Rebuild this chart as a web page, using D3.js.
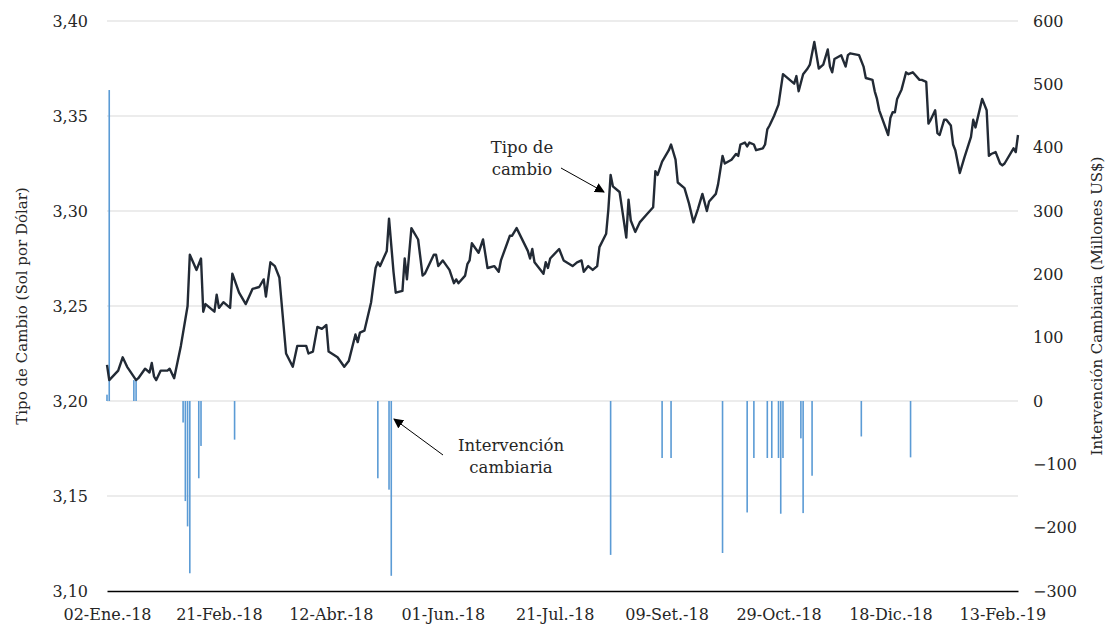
<!DOCTYPE html>
<html>
<head>
<meta charset="utf-8">
<script src="https://cdn.jsdelivr.net/npm/d3@7"></script>
<style>
  body { margin: 0; background: #fff; }
  svg text { font-family: 'DejaVu Serif', serif; fill: #262626; }
</style>
</head>
<body>
<div id="chart"></div>
<script>
const WIDTH = 1107
const HEIGHT = 627
const MARGIN = { top: 21, right: 89, bottom: 36, left: 107 }

// exchange rate (sol per dollar)
const rateDates = [
  '2018-01-02','2018-01-03','2018-01-07','2018-01-09','2018-01-11','2018-01-15','2018-01-16','2018-01-19','2018-01-21','2018-01-22',
  '2018-01-23','2018-01-24','2018-01-26','2018-01-29','2018-01-30','2018-02-01','2018-02-04','2018-02-07','2018-02-08','2018-02-11',
  '2018-02-13','2018-02-14','2018-02-15','2018-02-19','2018-02-20','2018-02-21','2018-02-23','2018-02-26','2018-02-27','2018-03-02',
  '2018-03-05','2018-03-08','2018-03-11','2018-03-13','2018-03-14','2018-03-16','2018-03-18','2018-03-20','2018-03-23','2018-03-26',
  '2018-03-28','2018-04-01','2018-04-02','2018-04-04','2018-04-06','2018-04-08','2018-04-10','2018-04-11','2018-04-15','2018-04-18',
  '2018-04-20','2018-04-23','2018-04-24','2018-04-25','2018-04-27','2018-04-30','2018-05-02','2018-05-03','2018-05-04','2018-05-07',
  '2018-05-08','2018-05-10','2018-05-11','2018-05-14','2018-05-15','2018-05-16','2018-05-18','2018-05-21','2018-05-23','2018-05-24',
  '2018-05-28','2018-05-29','2018-05-30','2018-06-01','2018-06-04','2018-06-06','2018-06-07','2018-06-08','2018-06-11','2018-06-12',
  '2018-06-13','2018-06-14','2018-06-17','2018-06-19','2018-06-21','2018-06-24','2018-06-26','2018-06-27','2018-07-01','2018-07-02',
  '2018-07-04','2018-07-09','2018-07-10','2018-07-11','2018-07-12','2018-07-16','2018-07-17','2018-07-18','2018-07-19','2018-07-23',
  '2018-07-25','2018-07-29','2018-07-31','2018-08-02','2018-08-03','2018-08-05','2018-08-07','2018-08-09','2018-08-10','2018-08-13',
  '2018-08-14','2018-08-15','2018-08-16','2018-08-19','2018-08-20','2018-08-22','2018-08-23','2018-08-24','2018-08-26','2018-08-28',
  '2018-08-31','2018-09-03','2018-09-04','2018-09-05','2018-09-07','2018-09-10','2018-09-11','2018-09-13','2018-09-14','2018-09-17',
  '2018-09-19','2018-09-21','2018-09-23','2018-09-25','2018-09-27','2018-09-28','2018-10-01','2018-10-02','2018-10-04','2018-10-05',
  '2018-10-08','2018-10-10','2018-10-11','2018-10-12','2018-10-14','2018-10-15','2018-10-16','2018-10-18','2018-10-19','2018-10-22',
  '2018-10-23','2018-10-24','2018-10-25','2018-10-27','2018-10-29','2018-10-31','2018-11-05','2018-11-06','2018-11-07','2018-11-09',
  '2018-11-11','2018-11-12','2018-11-14','2018-11-16','2018-11-18','2018-11-20','2018-11-21','2018-11-22','2018-11-23','2018-11-26',
  '2018-11-28','2018-11-29','2018-11-30','2018-12-04','2018-12-06','2018-12-07','2018-12-10','2018-12-11','2018-12-12','2018-12-13',
  '2018-12-17','2018-12-18','2018-12-19','2018-12-20','2018-12-21','2018-12-23','2018-12-25','2018-12-26','2018-12-28','2018-12-31',
  '2019-01-01','2019-01-03','2019-01-04','2019-01-05','2019-01-07','2019-01-08','2019-01-09','2019-01-11','2019-01-12','2019-01-14',
  '2019-01-15','2019-01-16','2019-01-18','2019-01-20','2019-01-23','2019-01-24','2019-01-25','2019-01-28','2019-01-30','2019-01-31',
  '2019-02-01','2019-02-03','2019-02-05','2019-02-06','2019-02-07','2019-02-11','2019-02-12','2019-02-13'
]
const rateValues = [
  3.219,3.211,3.216,3.223,3.218,3.211,3.212,3.217,3.215,3.220,
  3.213,3.211,3.216,3.216,3.217,3.212,3.229,3.250,3.277,3.269,
  3.275,3.247,3.251,3.247,3.256,3.249,3.252,3.249,3.267,3.257,
  3.251,3.259,3.260,3.264,3.255,3.273,3.271,3.265,3.225,3.218,
  3.229,3.229,3.225,3.226,3.239,3.238,3.240,3.226,3.223,3.218,
  3.221,3.235,3.231,3.236,3.237,3.252,3.270,3.273,3.271,3.279,
  3.296,3.268,3.257,3.258,3.275,3.264,3.291,3.285,3.266,3.267,
  3.277,3.277,3.271,3.274,3.269,3.262,3.264,3.262,3.266,3.272,
  3.274,3.283,3.278,3.285,3.270,3.271,3.268,3.274,3.287,3.287,
  3.291,3.279,3.275,3.280,3.273,3.267,3.273,3.270,3.275,3.280,
  3.274,3.271,3.273,3.274,3.268,3.271,3.269,3.271,3.281,3.288,
  3.301,3.319,3.313,3.310,3.302,3.286,3.306,3.295,3.289,3.294,
  3.298,3.302,3.321,3.319,3.326,3.332,3.335,3.327,3.315,3.312,
  3.304,3.294,3.301,3.309,3.300,3.305,3.309,3.314,3.329,3.325,
  3.327,3.330,3.329,3.335,3.336,3.334,3.336,3.335,3.332,3.333,
  3.335,3.343,3.345,3.350,3.356,3.372,3.367,3.371,3.363,3.372,
  3.375,3.377,3.389,3.375,3.377,3.385,3.376,3.373,3.380,3.382,
  3.376,3.382,3.383,3.382,3.376,3.370,3.369,3.363,3.359,3.353,
  3.340,3.349,3.352,3.352,3.359,3.364,3.373,3.372,3.373,3.369,
  3.369,3.368,3.346,3.348,3.353,3.341,3.340,3.348,3.348,3.345,
  3.335,3.332,3.320,3.328,3.339,3.348,3.344,3.359,3.353,3.329,
  3.330,3.331,3.325,3.324,3.325,3.333,3.331,3.340
]

// central bank intervention (millions of US$)
const interventionDates = [
  '2018-01-02','2018-01-03','2018-01-14','2018-01-15','2018-02-05','2018-02-06','2018-02-07','2018-02-08','2018-02-12','2018-02-13',
  '2018-02-28','2018-05-03','2018-05-08','2018-05-09','2018-08-15','2018-09-07','2018-09-11','2018-10-04','2018-10-15','2018-10-18',
  '2018-10-24','2018-10-26','2018-10-29','2018-10-30','2018-10-31','2018-11-08','2018-11-09','2018-11-13','2018-12-05','2018-12-27'
]
const interventionValues = [
  10, 491, 33, 33, -34, -158, -198, -272, -122, -71,
  -61, -122, -140, -276, -243, -90, -90, -240, -176, -90,
  -90, -90, -90, -178, -90, -59, -177, -118, -56, -89
]

const xTickLabels = ['02-Ene.-18','21-Feb.-18','12-Abr.-18','01-Jun.-18','21-Jul.-18','09-Set.-18','29-Oct.-18','18-Dic.-18','13-Feb.-19']
const leftTicks = [3.10, 3.15, 3.20, 3.25, 3.30, 3.35, 3.40]
const rightTicks = [-300, -200, -100, 0, 100, 200, 300, 400, 500, 600]

const parse = d3.utcParse('%Y-%m-%d')
const rate = rateDates.map((d, i) => ({ date: parse(d), value: rateValues[i] }))
const intervention = interventionDates.map((d, i) => ({ date: parse(d), value: interventionValues[i] }))

const locale = d3.formatLocale({ decimal: ',', thousands: '.', grouping: [3], currency: ['', ''] })
const fmtRate = locale.format('.2f')

const svg = d3.select('#chart').append('svg')
  .attr('width', WIDTH)
  .attr('height', HEIGHT)

const x0 = parse('2018-01-02')
const x = d3.scaleUtc()
  .domain([x0, parse('2019-02-13')])
  .range([MARGIN.left, WIDTH - MARGIN.right])

const yl = d3.scaleLinear().domain([3.10, 3.40]).range([HEIGHT - MARGIN.bottom, MARGIN.top])
const yr = d3.scaleLinear().domain([-300, 600]).range([HEIGHT - MARGIN.bottom, MARGIN.top])

// gridlines
svg.append('g')
  .selectAll('line')
  .data(leftTicks.slice(1))
  .join('line')
    .attr('x1', MARGIN.left).attr('x2', WIDTH - MARGIN.right)
    .attr('y1', d => yl(d)).attr('y2', d => yl(d))
    .attr('stroke', '#d9d9d9')
    .attr('stroke-width', 1)

// intervention bars
svg.append('g')
  .selectAll('rect')
  .data(intervention)
  .join('rect')
    .attr('x', d => x(d.date) - 0.8)
    .attr('width', 1.6)
    .attr('y', d => Math.min(yr(d.value), yr(0)))
    .attr('height', d => Math.abs(yr(d.value) - yr(0)))
    .attr('fill', '#5b9bd5')

// exchange rate line
svg.append('path')
  .datum(rate)
  .attr('fill', 'none')
  .attr('stroke', '#222a35')
  .attr('stroke-width', 2.4)
  .attr('stroke-linejoin', 'round')
  .attr('d', d3.line().x(d => x(d.date)).y(d => yl(d.value)))

// bottom axis
const xTicks = xTickLabels.map((d, i) => d3.utcDay.offset(x0, 50 * i))
const xAxis = svg.append('g')
  .attr('transform', 'translate(0,' + (HEIGHT - MARGIN.bottom) + ')')
  .call(d3.axisBottom(x).tickValues(xTicks).tickSize(0).tickFormat((d, i) => xTickLabels[i]))
xAxis.select('.domain').attr('stroke', '#000').attr('stroke-width', 1.3)
xAxis.selectAll('text')
  .attr('dy', 0)
  .attr('y', 29)
  .style('font-size', '16px')

// left axis
const leftAxis = svg.append('g')
  .attr('transform', 'translate(' + (MARGIN.left - 19) + ',0)')
  .call(d3.axisLeft(yl).tickValues(leftTicks).tickSize(0).tickFormat(fmtRate))
leftAxis.select('.domain').remove()
leftAxis.selectAll('text').style('font-size', '16px').attr('x', 0)

// right axis
const rightAxis = svg.append('g')
  .attr('transform', 'translate(' + (WIDTH - MARGIN.right + 15) + ',0)')
  .call(d3.axisRight(yr).tickValues(rightTicks).tickSize(0))
rightAxis.select('.domain').remove()
rightAxis.selectAll('text').style('font-size', '16px').attr('x', 0)

// axis titles
svg.append('text')
  .attr('transform', 'translate(22,' + yl(3.25) + ') rotate(-90)')
  .attr('text-anchor', 'middle')
  .attr('dy', '0.35em')
  .style('font-size', '15px')
  .text('Tipo de Cambio (Sol por Dólar)')

svg.append('text')
  .attr('transform', 'translate(1097,' + yl(3.25) + ') rotate(-90)')
  .attr('text-anchor', 'middle')
  .attr('dy', '0.35em')
  .style('font-size', '15px')
  .text('Intervención Cambiaria (Millones US$)')

// annotations
const defs = svg.append('defs')
defs.append('marker')
    .attr('id', 'arrow')
    .attr('viewBox', '0 0 10 10')
    .attr('refX', 9).attr('refY', 5)
    .attr('markerWidth', 10).attr('markerHeight', 10)
    .attr('markerUnits', 'userSpaceOnUse')
    .attr('orient', 'auto')
  .append('path')
    .attr('d', 'M0,0L10,5L0,10Z')
    .attr('fill', '#000')

function annotate(lines, tx, ty, from, to) {
  let t = svg.append('text')
    .attr('text-anchor', 'middle')
    .style('font-size', '16.5px')
  lines.forEach((l, i) => {
    t.append('tspan').attr('x', tx).attr('y', ty + i * 22).text(l)
  })
  svg.append('line')
    .attr('x1', from[0]).attr('y1', from[1])
    .attr('x2', to[0]).attr('y2', to[1])
    .attr('stroke', '#000')
    .attr('stroke-width', 1)
    .attr('marker-end', 'url(#arrow)')
}

annotate(['Tipo de', 'cambio'], 522, 153, [561, 168], [604, 192])
annotate(['Intervención', 'cambiaria'], 511, 451, [443, 455], [394, 419])
</script>
</body>
</html>
